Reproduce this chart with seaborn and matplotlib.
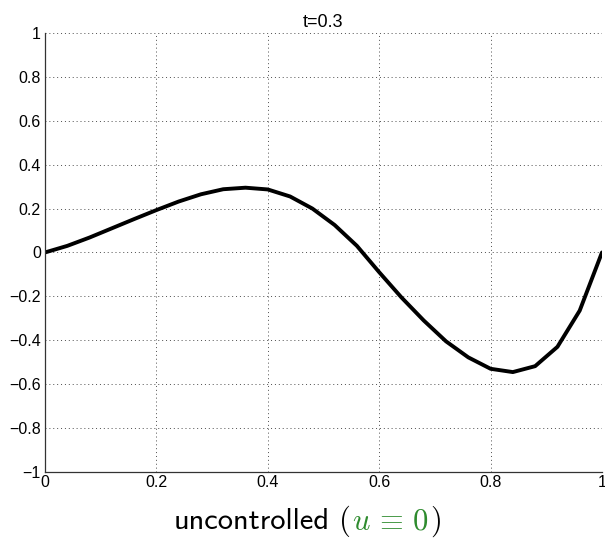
import matplotlib
matplotlib.use('Agg')
import matplotlib.pyplot as plt
import seaborn as sns
import pandas as pd
from matplotlib.offsetbox import TextArea, HPacker, AnchoredOffsetbox

# Data
x_vals = [0.00, 0.04, 0.08, 0.12, 0.16, 0.20, 0.24, 0.28, 0.32, 0.36,
          0.40, 0.44, 0.48, 0.52, 0.56, 0.60, 0.64, 0.68, 0.72, 0.76,
          0.80, 0.84, 0.88, 0.92, 0.96, 1.00]
u_vals = [0.000, 0.030, 0.068, 0.110, 0.152, 0.193, 0.232, 0.265, 0.288, 0.295,
          0.287, 0.255, 0.200, 0.125, 0.030, -0.090, -0.205, -0.310, -0.405, -0.478,
          -0.530, -0.545, -0.518, -0.430, -0.265, 0.000]
x_ticks = [0, 0.2, 0.4, 0.6, 0.8, 1]
y_ticks = [-1, -0.8, -0.6, -0.4, -0.2, 0, 0.2, 0.4, 0.6, 0.8, 1]
title_text = "t=0.3"

sns.set_style("white")
plt.rcParams['font.family'] = ['Liberation Sans', 'DejaVu Sans']
plt.rcParams['mathtext.fontset'] = 'cm'
plt.rcParams['text.color'] = 'black'

df = pd.DataFrame({'x': x_vals, 'u': u_vals})

fig = plt.figure(figsize=(6.05, 5.4), dpi=100)
ax = fig.add_axes([0.0744, 0.126, 0.9206, 0.813])

sns.lineplot(data=df, x='x', y='u', color='black', linewidth=2.8,
             sort=False, estimator=None, ax=ax)

ax.set_xlim(0, 1)
ax.set_ylim(-1, 1)
ax.set_xticks(x_ticks)
ax.set_yticks(y_ticks)
ax.set_xticklabels([f"{t:g}" for t in x_ticks])
ax.set_yticklabels([f"{t:g}".replace('-', '\u2212') for t in y_ticks])
ax.tick_params(direction='in', length=4, width=0.8, labelsize=11.5, colors='black')
ax.tick_params(axis='x', pad=2)
ax.tick_params(axis='y', pad=3)
ax.grid(True, linestyle=(0, (1, 3)), color='0.3', linewidth=0.7)

for side in ['top', 'right']:
    ax.spines[side].set_visible(False)
for side in ['left', 'bottom']:
    ax.spines[side].set_color('0.2')
    ax.spines[side].set_linewidth(0.9)

ax.set_title(title_text, fontsize=13, pad=4, color='black')
ax.set_xlabel('')
ax.set_ylabel('')

# x label: sans word plus a maths part coloured green
green = '#2e8b2e'
word = TextArea("uncontrolled", textprops=dict(fontsize=22, family='cmss10', color='black'))
maths = HPacker(children=[
    TextArea(r"$($", textprops=dict(fontsize=22, color='black')),
    TextArea(r"$u\,\equiv\,0$", textprops=dict(fontsize=22, color=green)),
    TextArea(r"$)$", textprops=dict(fontsize=22, color='black')),
], align='baseline', pad=0, sep=1)
label = HPacker(children=[word, maths], align='baseline', pad=0, sep=6)
anchored = AnchoredOffsetbox(loc='upper center', child=label, pad=0, frameon=False,
                             bbox_to_anchor=(307.5 / 605, 1 - 503 / 540),
                             bbox_transform=fig.transFigure, borderpad=0)
fig.add_artist(anchored)

fig.savefig('out.png', dpi=100)
